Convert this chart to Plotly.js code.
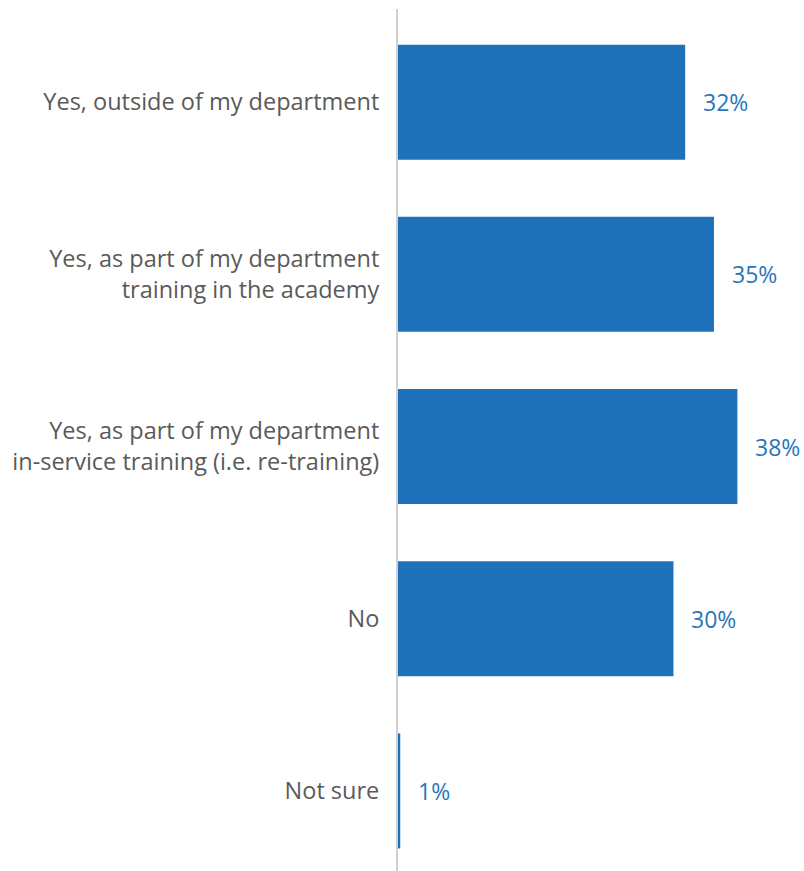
<!DOCTYPE html>
<html>
<head>
<meta charset="utf-8">
<script src="https://cdn.plot.ly/plotly-3.0.1.min.js"></script>
<style>html,body{margin:0;padding:0;background:#fff;}#chart{width:804px;height:871px;}</style>
</head>
<body>
<div id="chart"></div>
<script>
const categories = [
  "Yes, outside of my department",
  "Yes, as part of my department<br>training in the academy",
  "Yes, as part of my department<br>in-service training (i.e. re-training)",
  "No",
  "Not sure"
];
const barValues = [31.9, 35.1, 37.7, 30.6, 0.25];
const valueLabels = ["32%", "35%", "38%", "30%", "1%"];

const barColor = "#1F72B9";
const labelColor = "#2A75BD";

const trace = {
  type: "bar",
  orientation: "h",
  x: barValues,
  y: categories,
  marker: {color: barColor},
  hoverinfo: "none"
};

const annotations = categories.map((c, i) => ({
  x: barValues[i], y: c, xref: "x", yref: "y",
  text: valueLabels[i], showarrow: false,
  xanchor: "left", yanchor: "middle", xshift: 16,
  font: {family: "Open Sans", size: 23, color: labelColor}
}));

const layout = {
  width: 804, height: 871,
  margin: {l: 398, r: 0, t: 9, b: 0},
  paper_bgcolor: "#fff", plot_bgcolor: "#fff",
  showlegend: false,
  bargap: 0.332,
  font: {family: "Open Sans", color: "#595959"},
  xaxis: {range: [0, 45.1], showgrid: false, zeroline: false, showticklabels: false, showline: false, fixedrange: true},
  yaxis: {
    type: "category",
    range: [4.465, -0.541], autorange: false,
    showgrid: false, zeroline: false,
    showline: true, linecolor: "#D0D0D0", linewidth: 2,
    ticks: "", ticklabelstandoff: 12,
    tickfont: {family: "Open Sans", size: 23.5, color: "#5A5A5A"}
  },
  annotations: annotations
};

Plotly.newPlot("chart", [trace], layout, {displayModeBar: false, staticPlot: true});
</script>
</body>
</html>
